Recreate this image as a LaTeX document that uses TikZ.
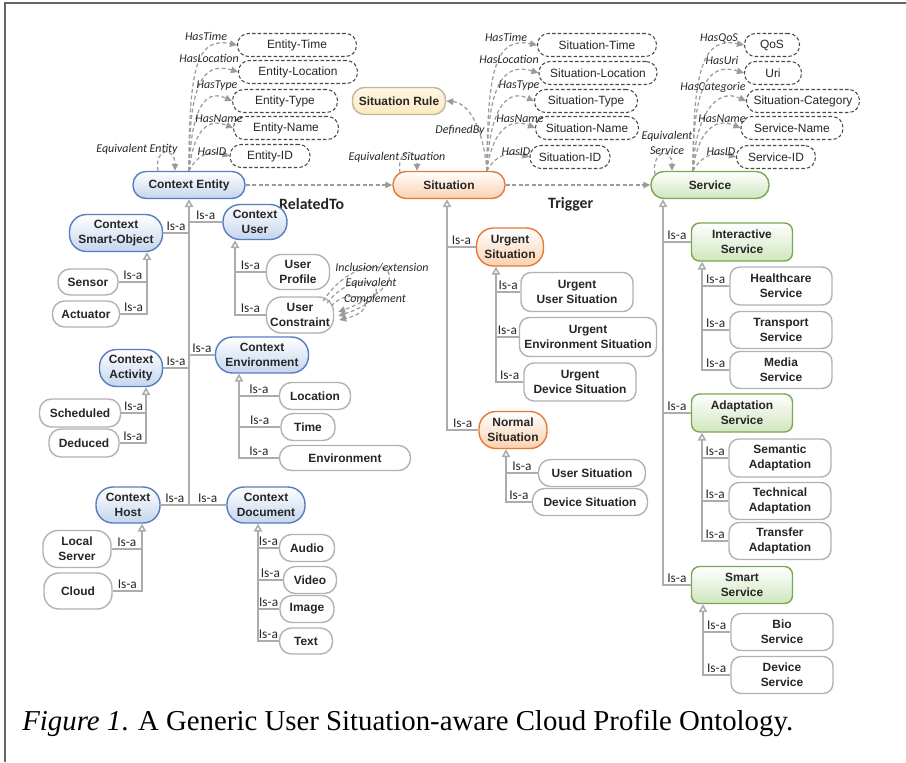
\documentclass[tikz,border=0pt]{standalone}
\usepackage{fontspec}
\setmainfont{Liberation Serif}
\newfontfamily\nodefont{Liberation Sans}
\newfontfamily\lblfont{Carlito}
\usetikzlibrary{arrows.meta,calc}

\definecolor{txt}{RGB}{38,38,38}
\definecolor{ctxbd}{RGB}{88,125,190}
\definecolor{ctxfill}{RGB}{196,213,238}
\definecolor{sitbd}{RGB}{228,122,52}
\definecolor{sitfill}{RGB}{250,208,176}
\definecolor{svcbd}{RGB}{122,168,82}
\definecolor{svcfill}{RGB}{208,230,190}
\definecolor{rulebd}{RGB}{192,182,160}
\definecolor{rulefill}{RGB}{253,233,190}
\definecolor{leafbd}{RGB}{178,178,178}
\definecolor{propbd}{RGB}{72,72,72}
\definecolor{isagray}{RGB}{172,172,172}
\definecolor{relgray}{RGB}{155,155,155}
\definecolor{framegray}{RGB}{100,100,100}

\begin{document}
\begin{tikzpicture}[x=0.02cm, y=-0.02cm,
    wd/.style={minimum width=#1*0.02cm},
    ht/.style={minimum height=#1*0.02cm},
    box/.style={rectangle, inner sep=0pt, align=center, text=txt,
      font=\nodefont\bfseries\fontsize{6.8}{8.4}\selectfont},
    ctxnode/.style={box, rounded corners=0.34cm, draw=ctxbd, line width=0.8pt,
      top color=white, bottom color=ctxfill},
    sitnode/.style={box, rounded corners=0.34cm, draw=sitbd, line width=0.8pt,
      top color=white, bottom color=sitfill},
    svcnode/.style={box, rounded corners=0.16cm, draw=svcbd, line width=0.8pt,
      top color=white, bottom color=svcfill},
    rulenode/.style={box, rounded corners=0.24cm, draw=rulebd, line width=0.8pt,
      top color=rulefill!40, bottom color=rulefill},
    leaf/.style={box, rounded corners=0.24cm, draw=leafbd, line width=0.8pt, fill=white},
    leafbox/.style={box, rounded corners=0.2cm, draw=leafbd, line width=0.8pt, fill=white},
    prop/.style={box, font=\nodefont\fontsize{6.8}{8.4}\selectfont, rounded corners=0.22cm,
      draw=propbd, dash pattern=on 2pt off 1.2pt, line width=0.6pt, fill=white},
    isa/.style={draw=isagray, line width=0.9pt},
    up/.style={isa, -{Triangle[open, width=0.17cm, length=0.16cm]}},
    rel/.style={draw=relgray, dash pattern=on 2.2pt off 1.5pt, line width=0.7pt,
      -{Triangle[width=0.13cm, length=0.14cm]}},
    isalbl/.style={font=\lblfont\fontsize{7.6}{8}\selectfont, text=txt, inner sep=1pt},
    lbl/.style={font=\lblfont\itshape\fontsize{6.8}{8}\selectfont, text=txt, inner sep=0pt}
  ]
  \useasboundingbox (0,0) rectangle (906,762);
  \draw[framegray, line width=1.1pt] (5,762) -- (5,3) -- (906,3);

  % main classes
  \node[ctxnode, rounded corners=0.26cm, wd=112, ht=27] (ce) at (189,185) {Context Entity};
  \node[sitnode, rounded corners=0.26cm, wd=112, ht=27] (sit) at (449,185) {Situation};
  \node[svcnode, rounded corners=0.26cm, wd=118, ht=27] (svc) at (710,185) {Service};
  \node[rulenode, wd=93, ht=27] (rule) at (399,101) {Situation Rule};

  \draw[rel] (ce) -- (sit) node[pos=0.45, yshift=-0.38cm, font=\lblfont\bfseries\fontsize{9}{10}\selectfont, text=txt] {RelatedTo};
  \draw[rel] (sit) -- (svc) node[pos=0.45, yshift=-0.38cm, font=\lblfont\bfseries\fontsize{9}{10}\selectfont, text=txt] {Trigger};

  % properties
  \foreach \n/\lab/\x/\y/\w in {et/Entity-Time/297/45/119, el/Entity-Location/298/72/119,
      ety/Entity-Type/285/101/105, en/Entity-Name/286/128/105, eid/Entity-ID/270/156/80,
      st/Situation-Time/597/45/119, sl/Situation-Location/598/73/118,
      sty/Situation-Type/586/101/103, sn/Situation-Name/587/128/103, sid/Situation-ID/570/157/80,
      qos/QoS/772/45/55, uri/Uri/773/73/57, cat/Situation-Category/803/101/113,
      sname/Service-Name/792/128/102, svid/Service-ID/776/157/79}
    \node[prop, wd=\w, ht=23] (\n) at (\x,\y) {\lab};

  \coordinate (sitO) at ([xshift=0.76cm]sit.north);
  \coordinate (svcO) at ([xshift=-0.34cm]svc.north);

  \draw[rel] (ce.north) .. controls +(0,-105) and +(-40,-8) .. (et.west);
  \draw[rel] (ce.north) .. controls +(0,-80) and +(-38,-12) .. (el.west);
  \draw[rel] (ce.north) .. controls +(2,-55) and +(-30,-14) .. (ety.west);
  \draw[rel] (ce.north) .. controls +(4,-35) and +(-28,-12) .. (en.west);
  \draw[rel] (ce.north) .. controls +(8,-15) and +(-22,-6) .. (eid.west);
  \draw[rel] ([xshift=-0.62cm]ce.north) .. controls +(-4,-24) and +(0,-24) .. ([xshift=-0.28cm]ce.north);
  \node[lbl] (eTime) at (206,36) {HasTime};
  \node[lbl] (eLoc) at (209,58) {HasLocation};
  \node[lbl] (eType) at (217,86) {HasType};
  \node[lbl] (eName) at (219,119) {HasName};
  \node[lbl] (eID) at (212,152) {HasID};
  \node[lbl] (eEq) at (137,149) {Equivalent Entity};

  \draw[rel] (sitO) .. controls +(0,-105) and +(-40,-8) .. (st.west);
  \draw[rel] (sitO) .. controls +(0,-80) and +(-38,-12) .. (sl.west);
  \draw[rel] (sitO) .. controls +(2,-55) and +(-30,-14) .. (sty.west);
  \draw[rel] (sitO) .. controls +(4,-35) and +(-28,-12) .. (sn.west);
  \draw[rel] (sitO) .. controls +(8,-15) and +(-22,-6) .. (sid.west);
  \draw[rel] (sitO) .. controls +(-4,-45) and +(22,2) .. (rule.east);
  \draw[rel] ([xshift=-0.98cm,yshift=-0.04cm]sit.north) .. controls +(-4,-24) and +(0,-24) .. ([xshift=-0.64cm]sit.north);
  \node[lbl] (sTime) at (506,37) {HasTime};
  \node[lbl] (sLoc) at (509,59) {HasLocation};
  \node[lbl] (sType) at (519,86) {HasType};
  \node[lbl] (sName) at (520,119) {HasName};
  \node[lbl] (sID) at (516,152) {HasID};
  \node[lbl] (sDef) at (460,130) {DefinedBy};
  \node[lbl] (sEq) at (397,157) {Equivalent Situation};

  \draw[rel] (svcO) .. controls +(0,-105) and +(-40,-8) .. (qos.west);
  \draw[rel] (svcO) .. controls +(0,-80) and +(-38,-12) .. (uri.west);
  \draw[rel] (svcO) .. controls +(2,-55) and +(-30,-14) .. (cat.west);
  \draw[rel] (svcO) .. controls +(4,-35) and +(-28,-12) .. (sname.west);
  \draw[rel] (svcO) .. controls +(8,-15) and +(-22,-6) .. (svid.west);
  \draw[rel] ([xshift=-1.1cm,yshift=-0.07cm]svc.north) .. controls +(-4,-24) and +(0,-24) .. ([xshift=-0.76cm]svc.north);
  \node[lbl] (vQos) at (719,38) {HasQoS};
  \node[lbl] (vUri) at (722,60) {HasUri};
  \node[lbl] (vCat) at (713,87) {HasCategorie};
  \node[lbl] (vName) at (722,119) {HasName};
  \node[lbl] (vID) at (721,152) {HasID};
  \node[lbl, align=center, font=\lblfont\itshape\fontsize{6.8}{8.4}\selectfont] (vEq) at (667,143) {Equivalent\\Service};

  % context entity branch
  \node[ctxnode, wd=64, ht=35] (cu) at (255,222) {Context\\User};
  \node[ctxnode, wd=93, ht=37] (cso) at (116,233) {Context\\Smart-Object};
  \node[ctxnode, wd=93, ht=36] (cenv) at (262,355) {Context\\Environment};
  \node[ctxnode, wd=63, ht=37] (cact) at (131,368) {Context\\Activity};
  \node[ctxnode, wd=64, ht=36] (chost) at (128,505) {Context\\Host};
  \node[ctxnode, wd=78, ht=36] (cdoc) at (266,505) {Context\\Document};

  \draw[isa] (cu.west) -- (cu.west -| ce.south) node[midway, above, isalbl] {Is-a};
  \draw[isa] (cso.east) -- (cso.east -| ce.south) node[midway, above, isalbl] {Is-a};
  \draw[isa] (cenv.west) -- (cenv.west -| ce.south) node[midway, above, isalbl] {Is-a};
  \draw[isa] (cact.east) -- (cact.east -| ce.south) node[midway, above, isalbl] {Is-a};
  \draw[isa] (cdoc.west) -- (cdoc.west -| ce.south) node[midway, above, isalbl] {Is-a};
  \draw[up] (chost.east) -| (ce.south) node[pos=0.25, above, isalbl] {Is-a};

  \node[leaf, rounded corners=0.3cm, wd=63, ht=35] (uprof) at (298,272) {User\\Profile};
  \node[leaf, rounded corners=0.3cm, wd=67, ht=36] (ucon) at (300,315) {User\\Constraint};
  \coordinate (cuT) at ([xshift=-0.4cm]cu.south);
  \draw[isa] (uprof.west) -- (uprof.west -| cuT) node[midway, above, isalbl] {Is-a};
  \draw[up] (ucon.west) -| (cuT) node[pos=0.25, above, isalbl] {Is-a};

  \draw[rel] ($(ucon.east)+(-11,-14)$) .. controls +(40,-62) and +(100,-38) .. ($(ucon.east)+(4,-3)$);
  \draw[rel] ($(ucon.east)+(-7,-12)$) .. controls +(32,-42) and +(72,-24) .. ($(ucon.east)+(4,1)$);
  \draw[rel] ($(ucon.east)+(-3,-9)$) .. controls +(22,-24) and +(48,-12) .. ($(ucon.east)+(5,5)$);
  \node[lbl] (uInc) at (382,268) {Inclusion/extension};
  \node[lbl] (uEqv) at (371,283) {Equivalent};
  \node[lbl] (uCmp) at (375,299) {Complement};

  \node[leaf, wd=60, ht=26] (sensor) at (88,282) {Sensor};
  \node[leaf, wd=67, ht=26] (actuator) at (86,314) {Actuator};
  \coordinate (csoT) at ([xshift=0.62cm]cso.south);
  \draw[isa] (sensor.east) -- (sensor.east -| csoT) node[midway, above, isalbl] {Is-a};
  \draw[up] (actuator.east) -| (csoT) node[pos=0.25, above, isalbl] {Is-a};

  \node[leaf, wd=71, ht=27] (loc) at (315,396) {Location};
  \node[leaf, wd=54, ht=27] (time) at (308,427) {Time};
  \node[leaf, wd=131, ht=25] (envl) at (345,458) {Environment};
  \coordinate (cenvT) at ([xshift=-0.46cm]cenv.south);
  \draw[isa] (loc.west) -- (loc.west -| cenvT) node[midway, above, isalbl] {Is-a};
  \draw[isa] (time.west) -- (time.west -| cenvT) node[midway, above, isalbl] {Is-a};
  \draw[up] (envl.west) -| (cenvT) node[pos=0.25, above, isalbl] {Is-a};

  \node[leaf, wd=81, ht=28] (sched) at (80,413) {Scheduled};
  \node[leaf, wd=70, ht=28] (ded) at (84,443) {Deduced};
  \coordinate (cactT) at ([xshift=0.3cm]cact.south);
  \draw[isa] (sched.east) -- (sched.east -| cactT) node[midway, above, isalbl] {Is-a};
  \draw[up] (ded.east) -| (cactT) node[pos=0.25, above, isalbl] {Is-a};

  \node[leaf, rounded corners=0.3cm, wd=68, ht=37] (lserv) at (77,549) {Local\\Server};
  \node[leaf, rounded corners=0.3cm, wd=68, ht=36] (cloud) at (78,591) {Cloud};
  \coordinate (chostT) at ([xshift=0.28cm]chost.south);
  \draw[isa] (lserv.east) -- (lserv.east -| chostT) node[midway, above, isalbl] {Is-a};
  \draw[up] (cloud.east) -| (chostT) node[pos=0.25, above, isalbl] {Is-a};

  \node[leaf, wd=55, ht=27] (audio) at (307,548) {Audio};
  \node[leaf, wd=53, ht=27] (video) at (310,580) {Video};
  \node[leaf, wd=54, ht=27] (image) at (307,609) {Image};
  \node[leaf, wd=53, ht=26] (text) at (306,641) {Text};
  \coordinate (cdocT) at ([xshift=-0.16cm]cdoc.south);
  \draw[isa] (audio.west) -- (audio.west -| cdocT) node[midway, above, isalbl] {Is-a};
  \draw[isa] (video.west) -- (video.west -| cdocT) node[midway, above, isalbl] {Is-a};
  \draw[isa] (image.west) -- (image.west -| cdocT) node[midway, above, isalbl] {Is-a};
  \draw[up] (text.west) -| (cdocT) node[pos=0.25, above, isalbl] {Is-a};

  % situation branch
  \node[sitnode, wd=67, ht=38] (urg) at (510,247) {Urgent\\Situation};
  \node[sitnode, wd=68, ht=37] (norm) at (513,430) {Normal\\Situation};
  \coordinate (sitT) at ([xshift=-0.04cm]sit.south);
  \draw[isa] (urg.west) -- (urg.west -| sitT) node[midway, above, isalbl] {Is-a};
  \draw[up] (norm.west) -| (sitT) node[pos=0.25, above, isalbl] {Is-a};

  \node[leafbox, wd=112, ht=39] (uus) at (577,292) {Urgent\\User Situation};
  \node[leafbox, wd=137, ht=39] (ues) at (588,337) {Urgent\\Environment Situation};
  \node[leafbox, wd=112, ht=38] (uds) at (580,382) {Urgent\\Device Situation};
  \coordinate (urgT) at ([xshift=-0.28cm]urg.south);
  \draw[isa] (uus.west) -- (uus.west -| urgT) node[midway, above, isalbl] {Is-a};
  \draw[isa] (ues.west) -- (ues.west -| urgT) node[midway, above, isalbl] {Is-a};
  \draw[up] (uds.west) -| (urgT) node[pos=0.25, above, isalbl] {Is-a};

  \node[leaf, wd=107, ht=27] (us) at (592,473) {User Situation};
  \node[leaf, wd=115, ht=27] (ds) at (590,502) {Device Situation};
  \coordinate (normT) at ([xshift=-0.14cm]norm.south);
  \draw[isa] (us.west) -- (us.west -| normT) node[midway, above, isalbl] {Is-a};
  \draw[up] (ds.west) -| (normT) node[pos=0.25, above, isalbl] {Is-a};

  % service branch
  \node[svcnode, wd=101, ht=38] (isv) at (742,242) {Interactive\\Service};
  \node[svcnode, wd=101, ht=38] (asv) at (742,413) {Adaptation\\Service};
  \node[svcnode, wd=101, ht=37] (ssv) at (742,585) {Smart\\Service};
  \coordinate (svcT) at ([xshift=-0.94cm]svc.south);
  \draw[isa] (isv.west) -- (isv.west -| svcT) node[midway, above, isalbl] {Is-a};
  \draw[isa] (asv.west) -- (asv.west -| svcT) node[midway, above, isalbl] {Is-a};
  \draw[up] (ssv.west) -| (svcT) node[pos=0.25, above, isalbl] {Is-a};

  \node[leafbox, wd=102, ht=38] (hc) at (781,286) {Healthcare\\Service};
  \node[leafbox, wd=102, ht=37] (tr) at (781,330) {Transport\\Service};
  \node[leafbox, wd=102, ht=37] (me) at (781,370) {Media\\Service};
  \coordinate (isvT) at ([xshift=-0.8cm]isv.south);
  \draw[isa] (hc.west) -- (hc.west -| isvT) node[midway, above, isalbl] {Is-a};
  \draw[isa] (tr.west) -- (tr.west -| isvT) node[midway, above, isalbl] {Is-a};
  \draw[up] (me.west) -| (isvT) node[pos=0.25, above, isalbl] {Is-a};

  \node[leafbox, wd=102, ht=38] (sem) at (780,458) {Semantic\\Adaptation};
  \node[leafbox, wd=102, ht=37] (tech) at (780,501) {Technical\\Adaptation};
  \node[leafbox, wd=102, ht=37] (trans) at (780,541) {Transfer\\Adaptation};
  \coordinate (asvT) at ([xshift=-0.8cm]asv.south);
  \draw[isa] (sem.west) -- (sem.west -| asvT) node[midway, above, isalbl] {Is-a};
  \draw[isa] (tech.west) -- (tech.west -| asvT) node[midway, above, isalbl] {Is-a};
  \draw[up] (trans.west) -| (asvT) node[pos=0.25, above, isalbl] {Is-a};

  \node[leafbox, wd=102, ht=37] (bio) at (782,632) {Bio\\Service};
  \node[leafbox, wd=102, ht=37] (dev) at (782,675) {Device\\Service};
  \coordinate (ssvT) at ([xshift=-0.78cm]ssv.south);
  \draw[isa] (bio.west) -- (bio.west -| ssvT) node[midway, above, isalbl] {Is-a};
  \draw[up] (dev.west) -| (ssvT) node[pos=0.25, above, isalbl] {Is-a};

  % caption
  \node[anchor=base west, inner sep=0pt, font=\fontsize{16.4}{19}\selectfont] (cap) at (22,730)
    {\textit{Figure 1}. A Generic User Situation-aware Cloud Profile Ontology.};
\end{tikzpicture}
\end{document}
